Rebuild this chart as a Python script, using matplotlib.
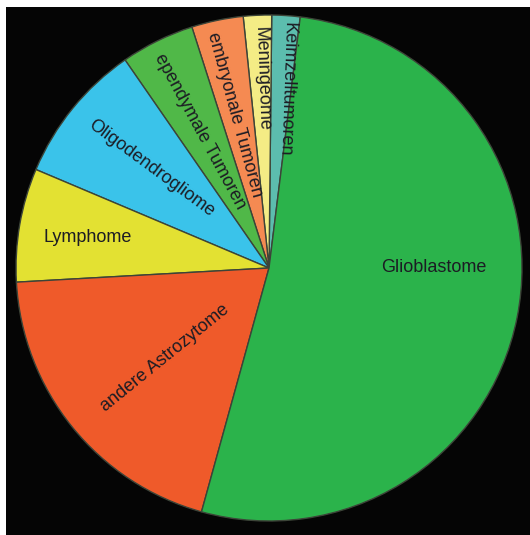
import matplotlib.pyplot as plt

plt.rcParams['font.family'] = ['Liberation Sans', 'DejaVu Sans']

# slices counterclockwise, starting at the Glioblastome / Keimzelltumoren border
labels = ["Keimzelltumoren", "Meningeome", "embryonale Tumoren", "ependymale Tumoren",
          "Oligodendrogliome", "Lymphome", "andere Astrozytome", "Glioblastome"]
shares = [1.8, 1.8, 3.3, 4.7, 9.0, 7.25, 19.8, 52.3]
colors = ["#5cbdae", "#f4ec85", "#f58a52", "#50b848",
          "#3ac3ea", "#e3e132", "#ef5a2a", "#2bb34b"]

# label placement (pie data coords) and rotation
label_pos = [(0.070, 0.705), (-0.030, 0.749), (-0.136, 0.605), (-0.275, 0.540),
             (-0.466, 0.395), (-0.715, 0.119), (-0.411, -0.356), (0.652, 0.0)]
label_rot = [-92, -88, -74.7, -61.6, -36.4, 0, 39, 0]

W, H = 530, 535
fig = plt.figure(figsize=(W / 100, H / 100), dpi=100)

# black backdrop, white strip top and left
bg = fig.add_axes([6 / W, 0, 1 - 6 / W, 1 - 7 / H])
bg.set_facecolor("#050505")
bg.set_xticks([])
bg.set_yticks([])
for s in bg.spines.values():
    s.set_visible(False)

cx, cy, r = 269, 268, 253
ax = fig.add_axes([(cx - r) / W, (H - cy - r) / H, 2 * r / W, 2 * r / H])
ax.set_facecolor("none")
ax.pie(shares, colors=colors, startangle=82.9, counterclock=True, radius=1,
       wedgeprops=dict(edgecolor="#3c4438", linewidth=1.0))
ax.set_xlim(-1, 1)
ax.set_ylim(-1, 1)
ax.set_aspect("auto")
ax.axis("off")

for lab, (x, y), rot in zip(labels, label_pos, label_rot):
    ax.text(x, y, lab, rotation=rot, rotation_mode="anchor", ha="center", va="center",
            fontsize=13, color="#1c1c24")

fig.savefig("out.png", dpi=100, facecolor="white")
